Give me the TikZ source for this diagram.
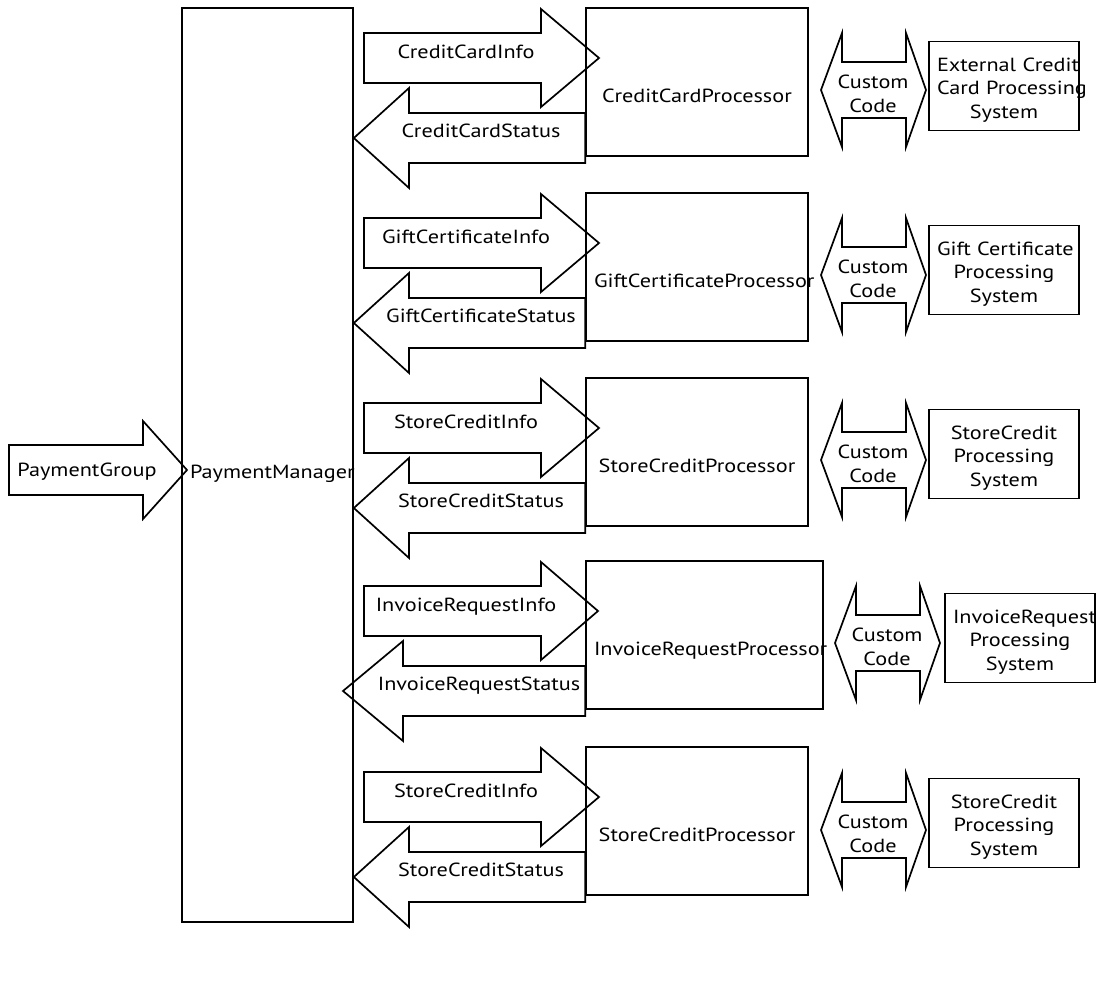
\documentclass[tikz,border=0pt]{standalone}
\usepackage{fontspec}
\setmainfont{PT Sans}[FakeStretch=1.17]
\hyphenpenalty=10000

\begin{document}
\begin{tikzpicture}[x=1pt,y=-1pt,line width=1.7pt,
  font=\fontsize{19}{24.5}\selectfont,
  box/.style={draw,align=center,inner sep=8pt},
  proc/.style={box,text width=206pt,minimum height=148pt,text height=40pt,text depth=0pt},
  sys/.style={box,text width=134pt,minimum height=89pt,text height=10pt,text depth=40pt,
    font=\fontsize{19}{23.5}\selectfont},
  lbl/.style={anchor=base,inner sep=0pt},
  code/.style={align=center,inner sep=0pt}]
\useasboundingbox (0,0) rectangle (1119,996); % keep the margins

\node[box,text width=155pt,minimum height=914pt,text height=26pt,text depth=0pt]
  (pm) at (267.5,465) {PaymentManager};
\draw
     (9,445)
  -- ++(134,0) -- ++(0,-24) -- ++(44,49) -- ++(-44,49) -- ++(0,-24) -- ++(-134,0)
  -- cycle;
\node[lbl] (pg) at (87,476) {PaymentGroup};

% credit card
\node[proc] (ccp) at (697,82) {CreditCardProcessor};
\draw
     (364,33)
  -- ++(177,0) -- ++(0,-24) -- ++(58,49) -- ++(-58,49) -- ++(0,-24) -- ++(-177,0)
  -- cycle;
\node[lbl] (cci) at (466,58) {CreditCardInfo};
\draw
     (ccp.west |- 0,113)
  -- (409,113) -- ++(0,-25) -- (pm.east |- 0,138) -- (409,188) -- ++(0,-25)
  -- (ccp.west |- 0,163)
  -- cycle;
\node[lbl] (ccs) at (481,137) {CreditCardStatus};
\draw
     (821,90)
  -- ++(21,-57) -- ++(0,29) -- ++(64,0) -- ++(0,-29) -- ++(20,57)
  -- ++(-20,57) -- ++(0,-29) -- ++(-64,0) -- ++(0,29)
  -- cycle;
\node[code] (ccc) at (873,94) {Custom\\Code};
\node[sys] (ccx) at (1004,86) {External~Credit\\Card~Processing\\System};

% gift certificate
\node[proc] (gcp) at (697,267) {GiftCertificateProcessor};
\draw
     (364,218)
  -- ++(177,0) -- ++(0,-24) -- ++(58,49) -- ++(-58,49) -- ++(0,-24) -- ++(-177,0)
  -- cycle;
\node[lbl] (gci) at (466,243) {GiftCertificateInfo};
\draw
     (gcp.west |- 0,298)
  -- (409,298) -- ++(0,-25) -- (pm.east |- 0,323) -- (409,373) -- ++(0,-25)
  -- (gcp.west |- 0,348)
  -- cycle;
\node[lbl] (gcs) at (481,322) {GiftCertificateStatus};
\draw
     (821,275)
  -- ++(21,-57) -- ++(0,29) -- ++(64,0) -- ++(0,-29) -- ++(20,57)
  -- ++(-20,57) -- ++(0,-29) -- ++(-64,0) -- ++(0,29)
  -- cycle;
\node[code] (gcc) at (873,279) {Custom\\Code};
\node[sys] (gcx) at (1004,270) {Gift~Certificate\\Processing\\System};

% store credit
\node[proc] (scp) at (697,452) {StoreCreditProcessor};
\draw
     (364,403)
  -- ++(177,0) -- ++(0,-24) -- ++(58,49) -- ++(-58,49) -- ++(0,-24) -- ++(-177,0)
  -- cycle;
\node[lbl] (sci) at (466,428) {StoreCreditInfo};
\draw
     (scp.west |- 0,483)
  -- (409,483) -- ++(0,-25) -- (pm.east |- 0,508) -- (409,558) -- ++(0,-25)
  -- (scp.west |- 0,533)
  -- cycle;
\node[lbl] (scs) at (481,507) {StoreCreditStatus};
\draw
     (821,460)
  -- ++(21,-57) -- ++(0,29) -- ++(64,0) -- ++(0,-29) -- ++(20,57)
  -- ++(-20,57) -- ++(0,-29) -- ++(-64,0) -- ++(0,29)
  -- cycle;
\node[code] (scc) at (873,464) {Custom\\Code};
\node[sys] (scx) at (1004,454) {StoreCredit\\Processing\\System};

% invoice request
\node[proc,text width=221pt] (irp) at (704.5,635) {InvoiceRequestProcessor};
\draw
     (364,586)
  -- ++(177,0) -- ++(0,-24) -- ++(57,49) -- ++(-57,49) -- ++(0,-24) -- ++(-177,0)
  -- cycle;
\node[lbl] (iri) at (466,611) {InvoiceRequestInfo};
\draw
     (irp.west |- 0,666)
  -- (403,666) -- ++(0,-25) -- (343,691) -- (403,741) -- ++(0,-25)
  -- (irp.west |- 0,716)
  -- cycle;
\node[lbl] (irs) at (479,690) {InvoiceRequestStatus};
\draw
     (835,643)
  -- ++(21,-57) -- ++(0,29) -- ++(64,0) -- ++(0,-29) -- ++(20,57)
  -- ++(-20,57) -- ++(0,-29) -- ++(-64,0) -- ++(0,29)
  -- cycle;
\node[code] (irc) at (887,647) {Custom\\Code};
\node[sys] (irx) at (1020,638) {InvoiceRequest\\Processing\\System};

% store credit again
\node[proc] (sdp) at (697,821) {StoreCreditProcessor};
\draw
     (364,772)
  -- ++(177,0) -- ++(0,-24) -- ++(58,49) -- ++(-58,49) -- ++(0,-24) -- ++(-177,0)
  -- cycle;
\node[lbl] (sdi) at (466,797) {StoreCreditInfo};
\draw
     (sdp.west |- 0,852)
  -- (409,852) -- ++(0,-25) -- (pm.east |- 0,877) -- (409,927) -- ++(0,-25)
  -- (sdp.west |- 0,902)
  -- cycle;
\node[lbl] (sds) at (481,876) {StoreCreditStatus};
\draw
     (821,830)
  -- ++(21,-57) -- ++(0,29) -- ++(64,0) -- ++(0,-29) -- ++(20,57)
  -- ++(-20,57) -- ++(0,-29) -- ++(-64,0) -- ++(0,29)
  -- cycle;
\node[code] (sdc) at (873,834) {Custom\\Code};
\node[sys] (sdx) at (1004,823) {StoreCredit\\Processing\\System};
\end{tikzpicture}
\end{document}
